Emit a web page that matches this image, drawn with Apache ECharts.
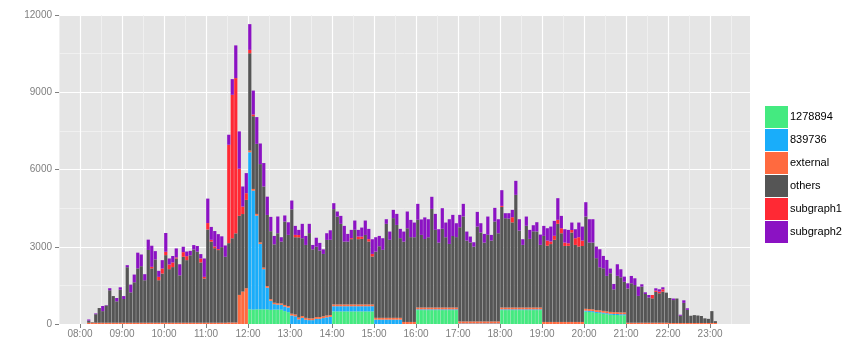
<!DOCTYPE html>
<html><head><meta charset="utf-8">
<script src="https://cdn.jsdelivr.net/npm/echarts@6/dist/echarts.min.js"></script>
<style>html,body{margin:0;padding:0;background:#fff}#c{width:866px;height:362px}</style>
</head><body><div id="c"></div>
<script>
// 5-minute bins, first bin starts 08:10
const firstBin = '08:10';
const binMinutes = 5;

// one row per hour (08h has 10 bins, 23h has 2)
const g1278894 = [
 0,0,0,0,0,0,0,0,0,0,
 0,0,0,0,0,0,0,0,0,0,0,0,
 0,0,0,0,0,0,0,0,0,0,0,0,
 0,0,0,0,0,0,0,0,0,0,0,0,
 570,560,570,570,570,570,550,560,560,555,500,460,
 0,0,0,0,0,0,0,0,0,0,0,0,
 490,490,490,490,490,490,490,490,490,490,490,490,
 0,0,0,0,0,0,0,0,0,0,0,0,
 540,540,540,540,540,540,540,540,540,540,540,540,
 0,0,0,0,0,0,0,0,0,0,0,0,
 540,540,540,540,540,540,540,540,540,540,540,540,
 0,0,0,0,0,0,0,0,0,0,0,0,
 480,470,460,430,420,400,380,360,350,350,340,340,
 0,0,0,0,0,0,0,0,0,0,0,0,
 0,0,0,0,0,0,0,0,0,0,0,0,
 0,0
];
const b839736 = [
 0,0,0,0,0,0,0,0,0,0,
 0,0,0,0,0,0,0,0,0,0,0,0,
 0,0,0,0,0,0,0,0,0,0,0,0,
 0,0,0,0,0,0,0,0,0,0,0,0,
 6100,4620,3640,2540,1560,840,350,210,190,190,180,180,
 330,300,180,240,170,150,150,200,200,230,260,280,
 200,200,200,200,200,200,200,200,200,200,200,200,
 170,170,170,170,170,170,170,170,0,0,0,0,
 30,30,30,30,30,30,30,30,30,30,30,30,
 20,20,20,20,20,20,20,20,20,20,20,20,
 30,30,30,30,30,30,30,30,30,30,30,30,
 0,0,0,0,0,0,0,0,0,0,0,0,
 40,40,40,40,40,40,40,40,40,40,40,40,
 0,0,0,0,0,0,0,0,0,0,0,0,
 0,0,0,0,0,0,0,0,0,0,0,0,
 0,0
];
const external = [
 50,50,50,50,50,50,50,50,50,50,
 50,50,50,50,50,50,50,50,50,50,50,50,
 50,50,50,50,50,50,50,50,50,50,50,50,
 50,50,50,50,50,50,60,60,60,1130,1260,1390,
 65,65,65,60,60,65,65,55,55,55,60,60,
 70,70,70,70,70,70,70,70,70,70,70,70,
 70,70,70,70,70,70,70,70,70,70,70,70,
 70,70,70,70,70,70,70,70,80,80,80,80,
 70,70,70,70,70,70,70,70,70,70,70,70,
 80,80,80,80,80,80,80,80,80,80,80,80,
 70,70,70,70,70,70,70,70,70,70,70,70,
 80,80,80,80,80,80,80,80,80,80,80,80,
 70,70,70,70,70,70,70,70,70,70,70,70,
 50,50,50,50,50,50,50,50,50,50,50,50,
 40,40,40,40,40,40,40,40,40,40,40,40,
 40,40
];
const others = [
 80,20,330,570,450,665,1260,1035,830,1280,
 920,2155,1180,1570,2110,2195,1650,2825,2110,2455,1650,1910,
 2625,2080,2160,2495,1840,2560,2430,2620,2845,2760,2340,1715,
 3620,3150,2895,2820,2935,2560,3080,3270,3460,3070,3010,3430,
 3780,2825,2720,3040,3150,2760,2640,2270,2720,2400,3240,2760,
 4055,3000,3115,3020,2830,3310,2680,2730,2580,2420,2935,2920,
 3702,3408,3129,2440,2439,2535,2898,2535,2545,2698,2444,1862,
 2570,2781,2641,3649,3030,3872,3607,3094,3120,3638,3293,3290,
 3406,2820,2660,2729,3830,3017,2521,3057,2730,2469,2778,2734,
 3658,4076,3140,3066,2905,3684,3454,3059,3363,3140,3880,3424,
 3907,3468,3453,3307,4375,2989,2432,3173,2665,2961,2953,2433,
 3340,2960,3024,3190,3811,3444,2951,2955,3470,2991,2930,2949,
 3583,2582,2592,2017,1673,1654,1378,1501,885,1410,1365,1190,
 1331,1531,1465,1041,1402,1116,977,947,1197,1143,1206,1168,
 970,890,950,280,780,510,280,305,290,270,180,160,
 460,70
];
const subgraph1 = [
 0,0,0,0,0,0,0,0,0,0,
 0,0,0,0,0,0,0,0,60,0,130,195,
 130,180,180,40,0,180,155,0,0,0,155,65,
 250,70,65,40,0,0,3820,5570,6030,1830,290,260,
 130,65,0,0,0,0,0,0,0,0,0,0,
 0,90,90,0,0,0,0,0,0,0,0,0,
 0,0,0,0,0,40,0,100,90,0,90,100,
 0,0,0,0,0,0,0,0,0,0,0,0,
 0,0,0,0,0,0,0,0,0,0,0,0,
 0,0,0,0,0,0,0,0,0,0,0,0,
 40,0,0,200,0,0,0,0,0,0,0,0,
 0,200,100,155,155,195,130,100,100,260,360,210,
 0,0,0,0,0,0,0,0,0,0,0,0,
 0,0,0,0,0,0,0,130,50,65,90,0,
 0,0,0,0,0,0,0,0,0,0,0,0,
 0,0
];
const subgraph2 = [
 45,0,30,0,200,20,80,0,130,95,
 115,80,300,300,610,455,235,400,820,325,235,325,
 730,235,250,350,430,210,180,170,170,220,170,715,
 950,500,600,580,420,440,390,610,1270,1450,780,780,
 1000,930,1040,800,910,710,555,325,650,170,235,490,
 340,350,200,560,350,360,170,350,300,180,260,370,
 230,200,310,610,300,320,360,260,350,560,400,570,
 560,400,450,180,320,320,430,360,390,650,670,570,
 620,600,840,700,470,620,520,800,570,960,820,540,
 480,490,350,230,170,570,360,340,710,220,530,545,
 610,195,210,285,545,440,220,360,350,235,360,400,
 390,480,580,580,840,480,520,520,290,350,570,545,
 557,907,907,450,700,480,620,180,210,450,310,200,
 200,285,260,360,90,65,100,0,90,90,80,0,
 0,60,0,40,100,60,0,0,0,0,0,0,
 0,0
];

const seriesNames = ['1278894','839736','external','others','subgraph1','subgraph2'];
const seriesValues = [g1278894, b839736, external, others, subgraph1, subgraph2];
const seriesColors = ['#44EA80','#19ADFA','#FF6A3F','#555555','#FF2934','#8B12C3'];

const xTickLabels = ['08:00','09:00','10:00','11:00','12:00','13:00','14:00','15:00','16:00','17:00','18:00','19:00','20:00','21:00','22:00','23:00'];
const xMinorLabels = ['07:30','08:30','09:30','10:30','11:30','12:30','13:30','14:30','15:30','16:30','17:30','18:30','19:30','20:30','21:30','22:30','23:30'];
const xRange = ['07:30','23:57'];
const yTicks = [0, 3000, 6000, 9000, 12000];

const pad = n => String(n).padStart(2, '0');
const toMin = s => parseInt(s.slice(0,2),10)*60 + parseInt(s.slice(3),10);
const fmt = v => pad(Math.floor(v/60)) + ':' + pad(Math.round(v%60));
const binCenters = others.map((_, i) => toMin(firstBin) + i*binMinutes + binMinutes/2);

const FONT = 'Liberation Sans, Arial, Helvetica, sans-serif';
const chart = echarts.init(document.getElementById('c'), null, {renderer:'canvas'});
const xMin = toMin(xRange[0]), xMax = toMin(xRange[1]);

chart.setOption({
  animation: false,
  backgroundColor: '#ffffff',
  textStyle: {fontFamily: FONT},
  grid: {left: 59, right: 116, top: 15, bottom: 38, show: true, backgroundColor: '#E5E5E5', borderWidth: 0},
  legend: {
    orient: 'vertical', left: 765, top: 106, padding: 0,
    itemWidth: 23, itemHeight: 22, itemGap: 1, icon: 'rect',
    textStyle: {fontSize: 11, color: '#000', fontFamily: FONT, padding: [0, 0, 0, -3]},
    data: seriesNames
  },
  xAxis: [
    {
      type: 'value', min: xMin, max: xMax, position: 'bottom',
      axisLine: {show: false},
      axisTick: {show: true, length: 4, lineStyle: {color: '#7F7F7F'}, customValues: xTickLabels.map(toMin)},
      axisLabel: {customValues: xTickLabels.map(toMin), formatter: v => fmt(v), color: '#7F7F7F', fontSize: 10, margin: 5, fontFamily: FONT},
      splitLine: {show: true, lineStyle: {color: '#FFFFFF', width: 1.2}}
    },
    {
      type: 'value', min: xMin, max: xMax, position: 'top',
      axisLine: {show: false},
      axisTick: {show: false, customValues: xMinorLabels.map(toMin)},
      axisLabel: {show: false, customValues: xMinorLabels.map(toMin)},
      splitLine: {show: true, lineStyle: {color: '#F2F2F2', width: 0.8}}
    }
  ],
  yAxis: {
    type: 'value', min: yTicks[0], max: yTicks[yTicks.length-1], interval: yTicks[1]-yTicks[0],
    axisLine: {show: false},
    axisTick: {show: true, length: 4, lineStyle: {color: '#7F7F7F'}},
    axisLabel: {color: '#7F7F7F', fontSize: 10, margin: 7, fontFamily: FONT, formatter: v => String(v)},
    splitLine: {show: true, lineStyle: {color: '#FFFFFF', width: 1.2}},
    minorTick: {show: false, splitNumber: 2},
    minorSplitLine: {show: true, lineStyle: {color: '#F2F2F2', width: 0.8}}
  },
  series: seriesNames.map((name, k) => ({
    name, type: 'bar', stack: 'all', xAxisIndex: 0, yAxisIndex: 0,
    barWidth: 3.2,
    itemStyle: {color: seriesColors[k]},
    emphasis: {disabled: true},
    encode: {x: 1, y: 0},
    data: seriesValues[k].map((v, i) => [v, binCenters[i]])
  }))
});
</script>
</body></html>
